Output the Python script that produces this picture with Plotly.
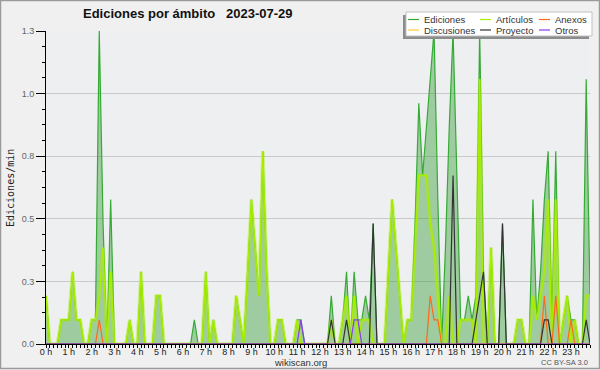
import plotly.graph_objects as go

# ---------------- data (10-minute bins, edits per minute) ----------------
ediciones = [
    0.2, 0, 0, 0, 0.1, 0.1,
    0.1, 0.3, 0.1, 0.1, 0, 0,
    0.1, 0.1, 1.3, 0.5, 0, 0.6,
    0, 0, 0, 0, 0.1, 0,
    0, 0.3, 0, 0, 0, 0.2,
    0.2, 0, 0, 0, 0, 0,
    0, 0, 0, 0.1, 0, 0,
    0.3, 0, 0.1, 0, 0, 0,
    0, 0, 0.2, 0.1, 0, 0.3,
    0.6, 0.4, 0.2, 0.8, 0.3, 0,
    0, 0.1, 0.1, 0, 0, 0,
    0.1, 0.1, 0, 0, 0, 0,
    0, 0, 0, 0.2, 0, 0,
    0.1, 0.3, 0, 0.3, 0.1, 0.1,
    0.2, 0.1, 0.5, 0, 0, 0,
    0.3, 0.6, 0.4, 0.2, 0, 0.1,
    0.1, 0.5, 1.0, 0.7, 0.9, 1.1,
    1.3, 0.6, 0, 0.4, 0.9, 1.3,
    0.7, 0.1, 0.1, 0.2, 0.1, 0.2,
    1.3, 0.3, 0, 0.4, 0, 0,
    0.5, 0, 0, 0, 0.1, 0.1,
    0, 0, 0.6, 0.1, 0.3, 0.6,
    0.8, 0.1, 0.8, 0, 0.1, 0.2,
    0.1, 0.1, 0, 0, 1.1, 0.2,
]
articulos = [
    0.2, 0, 0, 0, 0.1, 0.1,
    0.1, 0.3, 0.1, 0.1, 0, 0,
    0.1, 0.1, 0.2, 0.4, 0, 0.3,
    0, 0, 0, 0, 0.1, 0,
    0, 0.3, 0, 0, 0, 0.2,
    0.2, 0, 0, 0, 0, 0,
    0, 0, 0, 0, 0, 0,
    0.3, 0, 0.1, 0, 0, 0,
    0, 0, 0.2, 0.1, 0, 0.3,
    0.6, 0.4, 0.2, 0.8, 0.3, 0,
    0, 0.1, 0.1, 0, 0, 0,
    0.1, 0, 0, 0, 0, 0,
    0, 0, 0, 0.1, 0, 0,
    0.1, 0.2, 0, 0.2, 0, 0.1,
    0.1, 0.1, 0, 0, 0, 0,
    0.3, 0.6, 0.4, 0.2, 0, 0.1,
    0.1, 0.4, 0.7, 0.7, 0.7, 0.5,
    0.4, 0.2, 0, 0, 0.2, 0,
    0, 0.1, 0.1, 0.1, 0.1, 0,
    1.1, 0, 0, 0.4, 0, 0,
    0, 0, 0, 0, 0.1, 0.1,
    0, 0, 0.2, 0.1, 0.2, 0.3,
    0.6, 0, 0.6, 0, 0.1, 0.2,
    0, 0.1, 0, 0, 0.2, 0.2,
]
anexos = [0] * 12 + [0, 0, 0.1, 0, 0, 0] + [0] * 78 + \
    [0, 0, 0, 0, 0, 0.2, 0.1, 0.1, 0, 0, 0, 0] + [0] * 18 + \
    [0, 0, 0, 0, 0, 0.2, 0, 0, 0.2, 0, 0, 0, 0.1, 0, 0, 0, 0, 0]
discusiones = [0] * 144
proyecto = [0] * 72 + \
    [0, 0, 0, 0.1, 0, 0,
     0, 0.1, 0, 0, 0, 0,
     0, 0, 0.5, 0, 0, 0] + [0] * 12 + \
    [0, 0, 0, 0, 0, 0.7,
     0, 0, 0, 0, 0, 0.1,
     0.2, 0.3, 0, 0, 0, 0,
     0.5, 0, 0, 0, 0, 0,
     0, 0, 0, 0, 0, 0.1,
     0.1, 0, 0, 0, 0, 0,
     0, 0, 0, 0, 0.1, 0]
otros = [0] * 66 + [0, 0.1, 0, 0, 0, 0] + [0] * 6 + \
    [0, 0, 0, 0.1, 0.1, 0] + [0] * 60

hours = [i / 6 for i in range(len(ediciones))]
hour_ticks = list(range(24))
hour_labels = [f"{h} h" for h in hour_ticks]
y_major = [0, 0.26, 0.52, 0.78, 1.04, 1.3]
y_labels = ["0.0", "0.3", "0.5", "0.8", "1.0", "1.3"]

# ---------------- layout geometry ----------------
W, H = 600, 370
ML, MR, MT, MB = 46, 10, 31, 26
PW, PH = W - ML - MR, H - MT - MB


def px(x):
    return (x - ML) / PW


def py(y):
    return (H - MB - y) / PH


C_ED = "#35ab35"
C_ED_FILL = "rgba(60,160,60,0.45)"
C_ART = "#a8ee00"
C_DIS = "#ffcc33"
C_ANX = "#ff6a1a"
C_PRO = "#333333"
C_OTR = "#8a3cf0"

fig = go.Figure()
fig.add_trace(go.Scatter(x=hours, y=ediciones, mode="lines", name="Ediciones",
                         line=dict(color=C_ED, width=1.2), fill="tozeroy",
                         fillcolor=C_ED_FILL, showlegend=False))
fig.add_trace(go.Scatter(x=hours, y=articulos, mode="lines", name="Artículos glow",
                         line=dict(color="rgba(170,238,0,0.45)", width=3.5),
                         showlegend=False, hoverinfo="skip"))
fig.add_trace(go.Scatter(x=hours, y=articulos, mode="lines", name="Artículos",
                         line=dict(color=C_ART, width=1.3), showlegend=False))
fig.add_trace(go.Scatter(x=hours, y=discusiones, mode="lines", name="Discusiones",
                         line=dict(color=C_DIS, width=1.2), showlegend=False))
fig.add_trace(go.Scatter(x=hours, y=anexos, mode="lines", name="Anexos",
                         line=dict(color=C_ANX, width=1.2), showlegend=False))
fig.add_trace(go.Scatter(x=hours, y=proyecto, mode="lines", name="Proyecto",
                         line=dict(color=C_PRO, width=1.2), showlegend=False))
fig.add_trace(go.Scatter(x=hours, y=otros, mode="lines", name="Otros",
                         line=dict(color=C_OTR, width=1.2), showlegend=False))

minor_y = [i * 0.065 for i in range(21)]

fig.update_layout(
    template="none",
    width=W, height=H,
    margin=dict(l=ML, r=MR, t=MT, b=MB, pad=0, autoexpand=False),
    paper_bgcolor="#f0f0f0",
    plot_bgcolor="#eeeff1",
    showlegend=False,
    font=dict(family="Liberation Sans, Arial, sans-serif", size=10, color="#333"),
    xaxis=dict(
        automargin=False,
        range=[0, hours[-1]], showgrid=False, zeroline=False,
        showline=True, linecolor="#000", linewidth=1,
        tickmode="array", tickvals=hour_ticks, ticktext=hour_labels,
        ticks="outside", ticklen=3, tickcolor="#000", tickwidth=1,
        ticklabelstandoff=-4,
        tickfont=dict(size=9, color="#222"),
        minor=dict(dtick=1 / 6, tick0=0, ticks="outside", ticklen=3,
                   tickcolor="#000", showgrid=False),
    ),
    yaxis=dict(
        automargin=False,
        range=[0, 1.3], showgrid=True, gridcolor="#c9c9c9", gridwidth=1,
        zeroline=False, showline=True, linecolor="#000", linewidth=1,
        tickmode="array", tickvals=y_major, ticktext=y_labels,
        ticks="outside", ticklen=9, tickcolor="#000", tickwidth=1,
        tickfont=dict(size=9, color="#666"),
        minor=dict(tickmode="array", tickvals=minor_y, ticks="outside",
                   ticklen=3, tickcolor="#000", showgrid=False),
    ),
)

shapes = []
# outer frame
shapes.append(dict(type="rect", xref="paper", yref="paper",
                   x0=px(0.5), x1=px(599.5), y0=py(0.5), y1=py(368.5),
                   line=dict(color="#9a9a9a", width=1.5), fillcolor="rgba(0,0,0,0)",
                   layer="above"))
# legend shadow + box
shapes.append(dict(type="rect", xref="paper", yref="paper",
                   x0=px(403), x1=px(589), y0=py(39), y1=py(15),
                   line=dict(width=0), fillcolor="#8c8c8c", layer="above"))
shapes.append(dict(type="rect", xref="paper", yref="paper",
                   x0=px(406), x1=px(592), y0=py(36), y1=py(12),
                   line=dict(color="#c0c0c0", width=1), fillcolor="#ffffff",
                   layer="above"))

legend_items = [
    ("Ediciones", C_ED, 408, 19.5),
    ("Discusiones", C_DIS, 408, 30),
    ("Artículos", C_ART, 480, 19.5),
    ("Proyecto", C_PRO, 480, 30),
    ("Anexos", C_ANX, 539, 19.5),
    ("Otros", C_OTR, 539, 30),
]
annotations = []
for name, col, lx, ly in legend_items:
    shapes.append(dict(type="line", xref="paper", yref="paper",
                       x0=px(lx), x1=px(lx + 11), y0=py(ly), y1=py(ly),
                       line=dict(color=col, width=1.2), layer="above"))
    annotations.append(dict(text=name, xref="paper", yref="paper",
                            x=px(lx + 15), y=py(ly), xanchor="left", yanchor="middle",
                            showarrow=False, borderpad=0,
                            font=dict(family="Liberation Sans, Arial", size=9.5,
                                      color="#333")))

annotations.append(dict(text="<b>Ediciones por ámbito\u00a0\u00a0 2023-07-29</b>",
                        xref="paper", yref="paper", x=px(188), y=py(13.5),
                        xanchor="center", yanchor="middle", showarrow=False,
                        font=dict(family="Liberation Sans, Arial", size=13,
                                  color="#111")))
annotations.append(dict(text="Ediciones/min", xref="paper", yref="paper",
                        x=px(10), y=py(188), textangle=-90,
                        xanchor="center", yanchor="middle", showarrow=False,
                        font=dict(family="DejaVu Sans Mono", size=10, color="#222")))
annotations.append(dict(text="wikiscan.org", xref="paper", yref="paper",
                        x=px(300), y=py(362.5), xanchor="center", yanchor="middle",
                        showarrow=False, borderpad=0,
                        font=dict(family="Liberation Sans, Arial", size=9.5,
                                  color="#333")))
annotations.append(dict(text="CC BY-SA 3.0", xref="paper", yref="paper",
                        x=px(589), y=py(362.5), xanchor="right", yanchor="middle",
                        showarrow=False, borderpad=0,
                        font=dict(family="Liberation Sans, Arial", size=7.5,
                                  color="#555")))

fig.update_layout(shapes=shapes, annotations=annotations)

fig.write_html("out.html", config={"displayModeBar": False},
               post_script="document.body.style.margin='0';document.body.style.overflow='hidden';")
